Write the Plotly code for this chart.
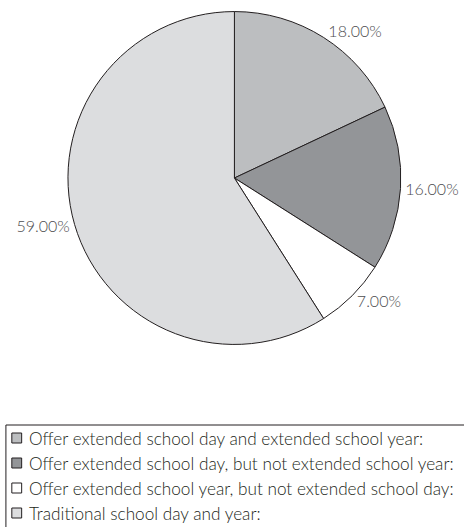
import plotly.graph_objects as go

# Share of schools by calendar model
categories = [
    "Offer extended school day and extended school year:",
    "Offer extended school day, but not extended school year:",
    "Offer extended school year, but not extended school day:",
    "Traditional school day and year:",
]
shares = [18.00, 16.00, 7.00, 59.00]
slice_colors = ["#bcbec0", "#939598", "#ffffff", "#dcdddf"]

W, H = 464, 527
OUTLINE = "#231f20"

fig = go.Figure(
    go.Pie(
        labels=categories,
        values=shares,
        sort=False,
        direction="clockwise",
        rotation=0,
        marker=dict(colors=slice_colors, line=dict(color=OUTLINE, width=1)),
        textposition="outside",
        texttemplate="%{value:.2f}%",
        textfont=dict(family="Lato", size=16, color="#4d4d4f", weight=300),
        hoverinfo="skip",
        showlegend=False,
        domain=dict(x=[69 / W, 407 / W], y=[1 - 347 / H, 1 - 9 / H]),
    )
)

# Key below the pie: framed box with a swatch and caption per category
shapes = [
    dict(
        type="rect", xref="paper", yref="paper",
        x0=6 / W, x1=1.05, y0=-0.05, y1=1 - 425 / H,
        line=dict(color=OUTLINE, width=1), fillcolor="rgba(0,0,0,0)",
    )
]
annotations = []
row_top, row_step = 438, 25
for i, (name, color) in enumerate(zip(categories, slice_colors)):
    yc = row_top + i * row_step
    shapes.append(
        dict(
            type="rect", xref="paper", yref="paper",
            x0=12 / W, x1=22 / W, y0=1 - (yc + 5) / H, y1=1 - (yc - 5) / H,
            line=dict(color=OUTLINE, width=1), fillcolor=color,
        )
    )
    annotations.append(
        dict(
            xref="paper", yref="paper", x=27 / W, y=1 - yc / H,
            xanchor="left", yanchor="middle", showarrow=False,
            text=name,
            font=dict(family="Lato", size=17.2, color="#231f20", weight=300),
        )
    )

fig.update_layout(
    width=W,
    height=H,
    margin=dict(l=0, r=0, t=0, b=0),
    paper_bgcolor="white",
    plot_bgcolor="white",
    shapes=shapes,
    annotations=annotations,
)

fig.write_html("out.html")
